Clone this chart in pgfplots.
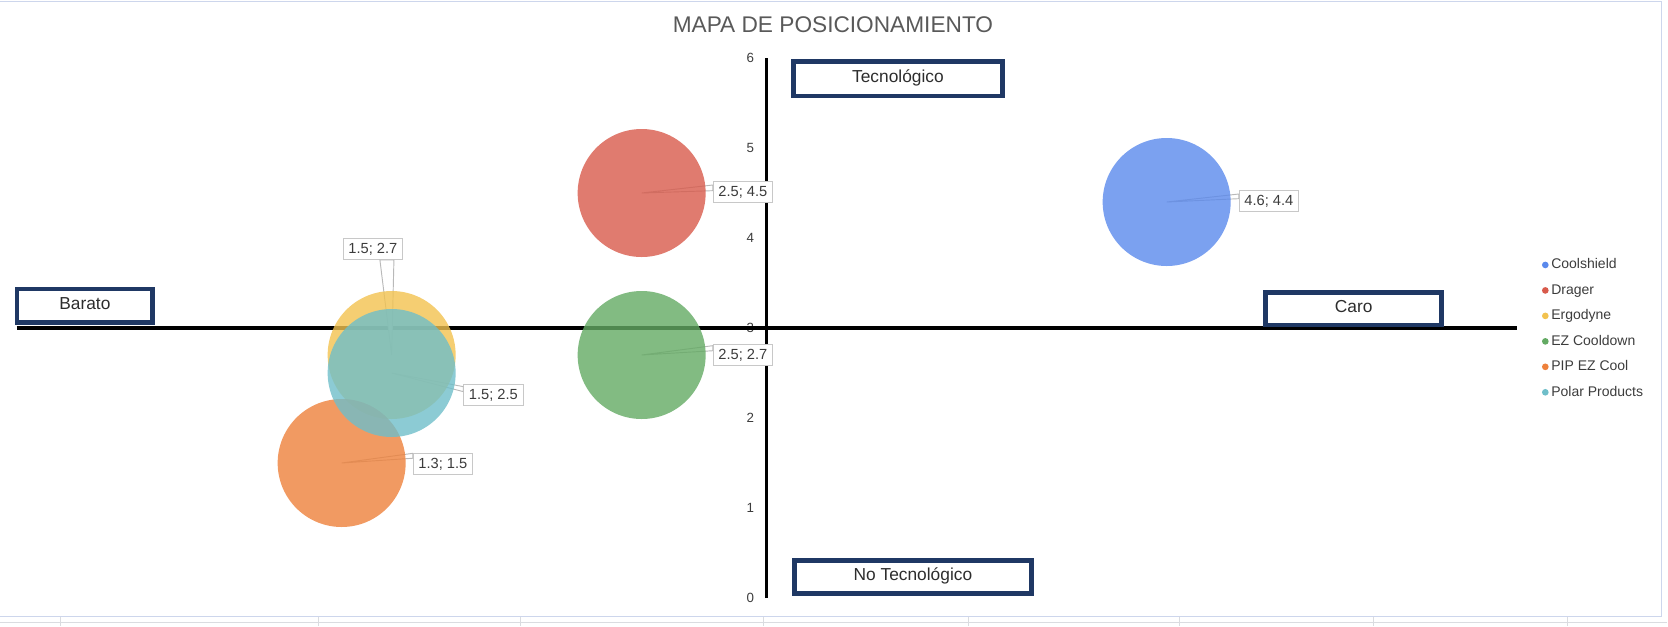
\documentclass[border=0pt]{standalone}
\usepackage{fontspec}
\setmainfont{Liberation Sans}
\usepackage{pgfplots}
\pgfplotsset{compat=1.18}
\definecolor{cCool}{RGB}{90,137,236}
\definecolor{cDrag}{RGB}{216,90,75}
\definecolor{cErgo}{RGB}{242,194,79}
\definecolor{cEZ}{RGB}{99,170,99}
\definecolor{cPIP}{RGB}{238,129,59}
\definecolor{cPolar}{RGB}{111,190,201}
\definecolor{navy}{RGB}{31,56,100}
\definecolor{titleC}{RGB}{89,89,89}
\definecolor{textC}{RGB}{60,60,60}
\definecolor{boxText}{RGB}{45,45,45}
\definecolor{lblBorder}{RGB}{200,200,200}
\definecolor{wedgeC}{RGB}{185,185,185}
\definecolor{frameC}{RGB}{205,214,236}
\definecolor{gridC}{RGB}{218,220,224}
\tikzset{
  lbl/.style={draw=lblBorder, fill=white, line width=0.75pt, inner xsep=3.9pt, inner ysep=0pt,
    minimum height=15.75pt, text height=0.72em, text depth=0em,
    font=\fontsize{11pt}{12pt}\selectfont, text=textC},
  wedge/.style={fill=white, draw=wedgeC, line width=0.7pt, line join=miter},
  qbox/.style={draw=navy, fill=white, line width=3.4pt, inner sep=0pt,
    text height=0.72em, text depth=0.21em, font=\fontsize{13pt}{15pt}\selectfont, text=boxText},
  bub/.style={draw=none, fill=#1, fill opacity=0.8, draw opacity=0},
}
\begin{document}
\begin{tikzpicture}
\useasboundingbox (-12.5pt,-21pt) rectangle (1238.5pt,448.5pt);
\begin{axis}[
  scale only axis, width=1125pt, height=405pt,
  xmin=0, xmax=6, ymin=0, ymax=6,
  hide axis, clip=false,
  legend style={at={(1.0167,0.6296)}, anchor=north west, draw=none, fill=none,
    font=\fontsize{10.5pt}{12pt}\selectfont, text=textC, row sep=9.1pt, inner sep=0pt,
    nodes={inner xsep=2pt, inner ysep=0pt, text height=8pt, text depth=2pt}},
  legend cell align=left,
]
% spreadsheet frame and cells
\draw[frameC, line width=0.75pt] (axis cs:-0.0668,6.633) -- (axis cs:6.581,6.633) -- (axis cs:6.581,-0.2078) -- (axis cs:-0.0668,-0.2078);
\draw[gridC, line width=0.75pt] (axis cs:-0.0668,-0.2667) -- (axis cs:6.6,-0.2667);
\pgfplotsinvokeforeach{0.177,1.209,2.017,2.989,3.808,4.653,5.429,6.205}{
  \draw[gridC, line width=0.75pt] (axis cs:#1,-0.2078) -- (axis cs:#1,-0.311);
}
% tick labels
\pgfplotsinvokeforeach{0,...,6}{
  \node[anchor=east, font=\fontsize{10pt}{11pt}\selectfont, text=textC, inner sep=0pt] at ([xshift=-9.3pt]axis cs:3,#1) {#1};
}
% axes lines
\draw[black, line width=2.5pt] (axis cs:0,3) -- (axis cs:6,3);
\draw[black, line width=2.5pt] (axis cs:3,0) -- (axis cs:3,6);

\addplot[only marks, draw=none, mark=*, mark size=48pt, mark options={bub=cCool},
  legend image code/.code={\fill[cCool] (0pt,0pt) circle (2.5pt);}] coordinates {(4.6,4.4)};
\addlegendentry{Coolshield}
\addplot[only marks, draw=none, mark=*, mark size=48pt, mark options={bub=cDrag},
  legend image code/.code={\fill[cDrag] (0pt,0pt) circle (2.5pt);}] coordinates {(2.5,4.5)};
\addlegendentry{Drager}
\addplot[only marks, draw=none, mark=*, mark size=48pt, mark options={bub=cErgo},
  legend image code/.code={\fill[cErgo] (0pt,0pt) circle (2.5pt);}] coordinates {(1.5,2.7)};
\addlegendentry{Ergodyne}
\addplot[only marks, draw=none, mark=*, mark size=48pt, mark options={bub=cEZ},
  legend image code/.code={\fill[cEZ] (0pt,0pt) circle (2.5pt);}] coordinates {(2.5,2.7)};
\addlegendentry{EZ Cooldown}
\addplot[only marks, draw=none, mark=*, mark size=48pt, mark options={bub=cPIP},
  legend image code/.code={\fill[cPIP] (0pt,0pt) circle (2.5pt);}] coordinates {(1.3,1.5)};
\addlegendentry{PIP EZ Cool}
\addplot[only marks, draw=none, mark=*, mark size=48pt, mark options={bub=cPolar},
  legend image code/.code={\fill[cPolar] (0pt,0pt) circle (2.5pt);}] coordinates {(1.5,2.5)};
\addlegendentry{Polar Products}

% quadrant boxes
\node[qbox, minimum width=157pt, minimum height=25.9pt] at (axis cs:3.525,5.769) {Tecnológico};
\node[qbox, minimum width=178pt, minimum height=24.9pt] at (axis cs:3.585,0.233) {No Tecnológico};
\node[qbox, minimum width=101.6pt, minimum height=25.4pt] at (axis cs:0.273,3.247) {Barato};
\node[qbox, minimum width=132pt, minimum height=24.6pt] at (axis cs:5.348,3.214) {Caro};

% data labels
\node[lbl] (l1) at (axis cs:5.009,4.411) {4.6; 4.4};
\filldraw[wedge] (axis cs:4.6,4.4) -- ([yshift=5.25pt]l1.west) -- ([yshift=1.75pt]l1.west) -- cycle;
\node[lbl] (l2) at (axis cs:2.905,4.511) {2.5; 4.5};
\filldraw[wedge] (axis cs:2.5,4.5) -- ([yshift=5.25pt]l2.west) -- ([yshift=1pt]l2.west) -- cycle;
\node[lbl] (l3) at (axis cs:1.425,3.878) {1.5; 2.7};
\filldraw[wedge] (axis cs:1.5,2.7) -- ([xshift=5.25pt]l3.south) -- ([xshift=15.75pt]l3.south) -- cycle;
\node[lbl] (l4) at (axis cs:2.905,2.700) {2.5; 2.7};
\filldraw[wedge] (axis cs:2.5,2.7) -- ([yshift=7pt]l4.west) -- ([yshift=3.2pt]l4.west) -- cycle;
\node[lbl] (l5) at (axis cs:1.705,1.489) {1.3; 1.5};
\filldraw[wedge] (axis cs:1.3,1.5) -- ([yshift=8pt]l5.west) -- ([yshift=4.3pt]l5.west) -- cycle;
\node[lbl] (l6) at (axis cs:1.907,2.256) {1.5; 2.5};
\filldraw[wedge] (axis cs:1.5,2.5) -- ([yshift=6.25pt]l6.west) -- ([yshift=2.5pt]l6.west) -- cycle;

% title
\node[font=\fontsize{17pt}{20pt}\selectfont, text=titleC, inner sep=0pt] at (axis cs:3.265,6.367) {MAPA DE POSICIONAMIENTO};
\end{axis}
\end{tikzpicture}
\end{document}
